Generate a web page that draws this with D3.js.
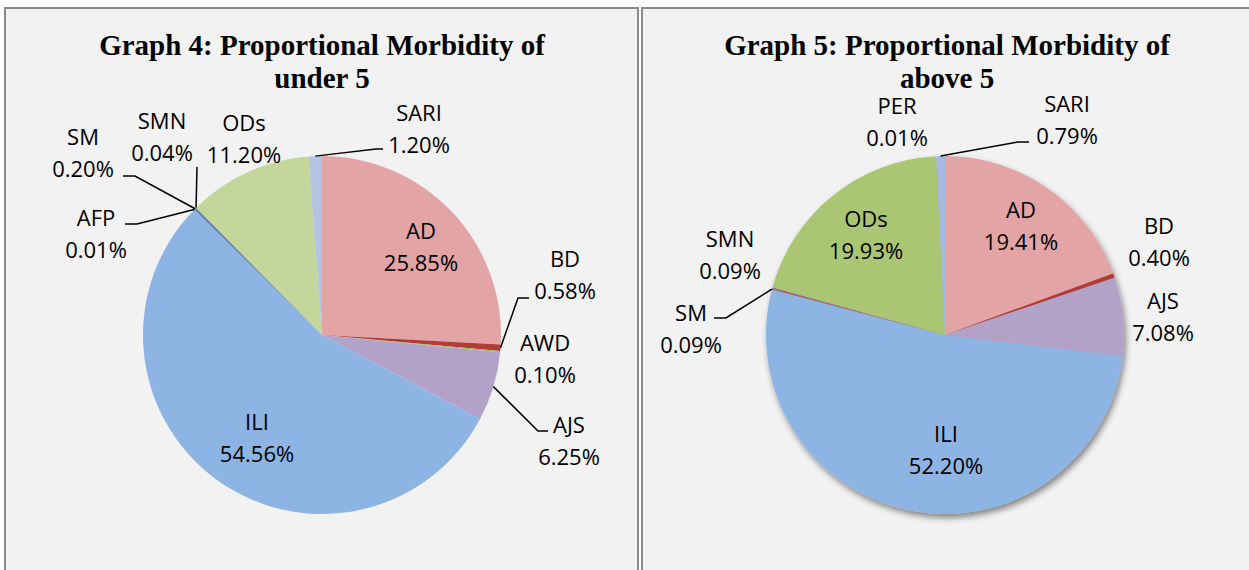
<!DOCTYPE html>
<html>
<head>
<meta charset="utf-8">
<script src="https://cdn.jsdelivr.net/npm/d3@7/dist/d3.min.js"></script>
<style>
  html, body { margin: 0; padding: 0; background: #ffffff; }
  svg { display: block; }
</style>
</head>
<body>
<svg id="chart" width="1249" height="570"></svg>
<script>
// ---- Data ----
const titles4 = ["Graph 4: Proportional Morbidity of", "under 5"];
const categories4 = ["AD", "BD", "AWD", "AJS", "ILI", "AFP", "SM", "SMN", "ODs", "SARI"];
const values4 = [25.85, 0.58, 0.10, 6.25, 54.56, 0.01, 0.20, 0.04, 11.20, 1.20];

const titles5 = ["Graph 5: Proportional Morbidity of", "above 5"];
const categories5 = ["AD", "BD", "AJS", "ILI", "SM", "SMN", "ODs", "PER", "SARI"];
const values5 = [19.41, 0.40, 7.08, 52.20, 0.09, 0.09, 19.93, 0.01, 0.79];

// ---- Styles / layout (not data) ----
const colors4 = {AD:"#E2A4A4", BD:"#B23B38", AWD:"#9BBB59", AJS:"#B2A2C8", ILI:"#8EB4E3",
                 AFP:"#4F81BD", SM:"#5A7DB0", SMN:"#7F7F7F", ODs:"#C3D69B", SARI:"#B3C3E0"};
const colors5 = {AD:"#E2A4A4", BD:"#B23B38", AJS:"#B2A2C8", ILI:"#8EB4E3", SM:"#C0504D",
                 SMN:"#8064A2", ODs:"#ABC673", PER:"#4F81BD", SARI:"#A7B9DF"};

// label centers relative to pie center, and optional leader [elbow, end]
const layout4 = {
  AD:  {p:[99,-105]},
  BD:  {p:[243,-77], leader:[[196,-37],[207,-37]]},
  AWD: {p:[223,7]},
  AJS: {p:[247,89], leader:[[216,96],[226,96]]},
  ILI: {p:[-65,86]},
  AFP: {p:[-226,-118], leader:[[-185,-111],[-197,-111]]},
  SM:  {p:[-239,-199], leader:[[-187,-159],[-199,-159]]},
  SMN: {p:[-160,-215], leader:[[-125,-168],[-125,-168]]},
  ODs: {p:[-78,-213]},
  SARI:{p:[97,-223], leader:[[54,-186],[61,-186]]}
};
const layout5 = {
  AD:  {p:[76,-126]},
  BD:  {p:[214,-110]},
  AJS: {p:[218,-35]},
  ILI: {p:[1,98]},
  SM:  {p:[-254,-23], leader:[[-219,-17],[-231,-17]]},
  SMN: {p:[-215,-97]},
  ODs: {p:[-79,-117]},
  PER: {p:[-48,-230]},
  SARI:{p:[122,-232], leader:[[73,-193],[84,-193]]}
};

const svg = d3.select("#chart");

// shadow filter
const defs = svg.append("defs");
const f = defs.append("filter").attr("id","shadow").attr("x","-20%").attr("y","-20%").attr("width","140%").attr("height","140%");
f.append("feDropShadow").attr("dx",2).attr("dy",4).attr("stdDeviation",3)
  .attr("flood-color","#000").attr("flood-opacity",0.45);

// panels
svg.append("rect").attr("x",5).attr("y",8).attr("width",633).attr("height",600)
  .attr("fill","#F2F2F2").attr("stroke","#8A8A8A").attr("stroke-width",2);
svg.append("rect").attr("x",642).attr("y",8).attr("width",620).attr("height",600)
  .attr("fill","#F2F2F2").attr("stroke","#8A8A8A").attr("stroke-width",2);

const R = 179;
const labelFont = "'Open Sans', sans-serif";
const fmt = v => d3.format(".2f")(v) + "%";

function drawPie(cx, cy, cats, vals, colors, layout, titleLines, titleX, shadow) {
  // title
  titleLines.forEach((t, i) => {
    svg.append("text").attr("x", titleX).attr("y", 55 + i * 33)
      .attr("text-anchor","middle")
      .attr("font-family","'Liberation Serif', serif").attr("font-weight","bold")
      .attr("font-size", 29).attr("fill","#000").text(t);
  });

  const data = cats.map((c, i) => ({cat: c, value: vals[i]}));
  const pie = d3.pie().value(d => d.value).sort(null);
  const arcs = pie(data);
  const arc = d3.arc().innerRadius(0).outerRadius(R);

  const g = svg.append("g").attr("transform", `translate(${cx},${cy})`);
  const slices = g.append("g");
  if (shadow) slices.attr("filter","url(#shadow)");
  slices.selectAll("path").data(arcs).join("path")
    .attr("d", arc).attr("fill", d => colors[d.data.cat]);

  // leader lines
  arcs.forEach(a => {
    const L = layout[a.data.cat];
    if (!L || !L.leader) return;
    const mid = (a.startAngle + a.endAngle) / 2;
    const sx = Math.sin(mid) * R, sy = -Math.cos(mid) * R;
    const pts = [[sx, sy], L.leader[0], L.leader[1]];
    g.append("path").attr("d", d3.line()(pts))
      .attr("fill","none").attr("stroke","#000").attr("stroke-width",1.5);
  });

  // labels
  arcs.forEach(a => {
    const L = layout[a.data.cat];
    if (!L) return;
    const t = g.append("text").attr("text-anchor","middle")
      .attr("font-family", labelFont).attr("font-size", 22).attr("fill","#000");
    t.append("tspan").attr("x", L.p[0]).attr("y", L.p[1]).attr("dominant-baseline","central").text(a.data.cat);
    t.append("tspan").attr("x", L.p[0]).attr("y", L.p[1] + 32).attr("dominant-baseline","central").text(fmt(a.data.value));
  });
}

drawPie(322, 335, categories4, values4, colors4, layout4, titles4, 322, false);
drawPie(945, 335, categories5, values5, colors5, layout5, titles5, 947, true);
</script>
</body>
</html>
